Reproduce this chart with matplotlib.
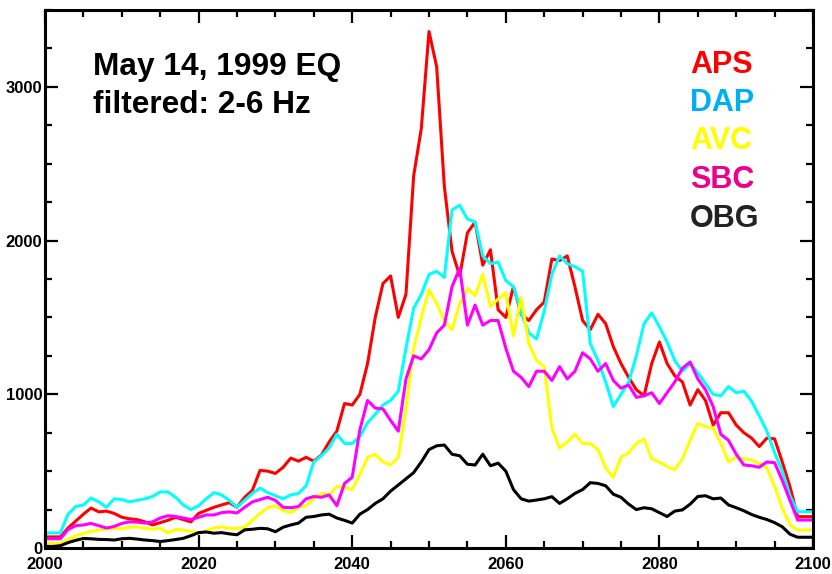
import matplotlib
matplotlib.use("Agg")
import matplotlib.pyplot as plt
from matplotlib import font_manager
from matplotlib.ticker import MultipleLocator
import numpy as np

t = list(range(2000, 2101))

aps = [72, 72, 72, 130, 175, 220, 260, 235, 240, 225,
       200, 190, 185, 170, 150, 165, 180, 200, 185, 170,
       225, 245, 265, 280, 295, 265, 330, 375, 505, 500,
       485, 525, 585, 565, 590, 565, 605, 690, 760, 940,
       930, 1000, 1200, 1500, 1720, 1770, 1500, 1650, 2420, 2730,
       3360, 3130, 2350, 1930, 1770, 2050, 2120, 1840, 1940, 1550,
       1500, 1700, 1520, 1480, 1550, 1600, 1880, 1870, 1900, 1700,
       1480, 1420, 1520, 1460, 1310, 1200, 1110, 1030, 990, 1200,
       1340, 1200, 1120, 1080, 930, 1030, 960, 800, 880, 880,
       800, 750, 715, 660, 715, 710, 560, 400, 204, 204, 204]

dap = [98, 98, 98, 220, 270, 280, 325, 300, 265, 320,
       315, 300, 310, 320, 335, 365, 365, 330, 280, 250,
       275, 320, 360, 345, 310, 265, 310, 355, 390, 360,
       340, 320, 345, 355, 405, 560, 600, 650, 740, 680,
       680, 725, 815, 870, 930, 960, 1020, 1300, 1560, 1650,
       1780, 1800, 1760, 2200, 2230, 2140, 2120, 1900, 1850, 1860,
       1740, 1700, 1530, 1400, 1360, 1540, 1780, 1900, 1850, 1830,
       1800, 1330, 1220, 1080, 920, 1000, 1080, 1250, 1460, 1530,
       1440, 1340, 1220, 1150, 1200, 1140, 1070, 1000, 990, 1050,
       1010, 1020, 955, 860, 760, 620, 500, 340, 236, 236, 236]

avc = [31, 31, 31, 55, 78, 95, 108, 115, 125, 128,
       126, 135, 138, 128, 122, 128, 98, 120, 117, 108,
       100, 112, 130, 138, 128, 128, 135, 180, 225, 262,
       275, 245, 230, 265, 275, 320, 355, 345, 400, 395,
       380, 480, 590, 610, 560, 540, 590, 900, 1300, 1500,
       1680, 1590, 1480, 1420, 1590, 1690, 1640, 1780, 1570, 1620,
       1660, 1380, 1630, 1330, 1220, 1180, 780, 650, 690, 740,
       680, 680, 640, 520, 460, 590, 620, 680, 710, 580,
       560, 530, 510, 580, 700, 810, 790, 780, 680, 560,
       590, 580, 573, 550, 520, 400, 260, 150, 117, 117, 117]

sbc = [60, 60, 60, 120, 145, 150, 160, 145, 130, 140,
       160, 170, 168, 162, 170, 195, 210, 205, 195, 185,
       200, 215, 215, 230, 235, 228, 265, 300, 315, 330,
       310, 265, 262, 270, 320, 335, 330, 345, 275, 420,
       460, 770, 960, 910, 905, 830, 760, 1100, 1250, 1230,
       1290, 1400, 1450, 1700, 1820, 1450, 1580, 1450, 1480, 1480,
       1300, 1150, 1110, 1050, 1150, 1150, 1090, 1180, 1100, 1150,
       1270, 1230, 1150, 1200, 1090, 1040, 1060, 980, 990, 1010,
       940, 1010, 1080, 1170, 1210, 1100, 1030, 920, 740, 700,
       610, 540, 535, 525, 560, 555, 440, 310, 182, 182, 182]

obg = [10, 10, 15, 35, 50, 62, 60, 56, 55, 52,
       60, 63, 58, 52, 48, 42, 48, 55, 63, 80,
       100, 104, 96, 100, 92, 86, 118, 122, 128, 125,
       106, 135, 150, 162, 200, 205, 215, 220, 195, 180,
       162, 220, 250, 290, 320, 370, 410, 450, 490, 560,
       640, 665, 670, 610, 600, 545, 540, 610, 535, 552,
       500, 380, 320, 305, 312, 320, 334, 290, 320, 355,
       380, 425, 420, 405, 350, 330, 285, 250, 262, 255,
       230, 205, 240, 248, 285, 335, 340, 320, 325, 280,
       262, 242, 218, 200, 185, 165, 138, 90, 70, 70, 70]

names = ["APS", "DAP", "AVC", "SBC", "OBG"]
series = [aps, dap, avc, sbc, obg]
line_colors = ["#ff0000", "#00ffff", "#ffff00", "#ff00ff", "#000000"]
label_colors = ["#ff0000", "#00b0f0", "#ffff00", "#ec008c", "#222222"]

title_lines = ["May 14, 1999 EQ", "filtered: 2-6 Hz"]

available = {f.name for f in font_manager.fontManager.ttflist}
tick_family = "Liberation Sans Narrow" if "Liberation Sans Narrow" in available else "Liberation Sans"
text_family = "Liberation Sans" if "Liberation Sans" in available else "DejaVu Sans"

fig = plt.figure(figsize=(8.32, 5.74), dpi=100)
ax = fig.add_axes([45 / 832, 26 / 574, 768 / 832, 538 / 574])

for vals, c in zip(series, line_colors):
    ax.plot(t, vals, color=c, lw=2.2, solid_joinstyle="round")

ax.set_xlim(2000, 2100)
ax.set_ylim(0, 3500)
ax.xaxis.set_major_locator(MultipleLocator(20))
ax.xaxis.set_minor_locator(MultipleLocator(5))
ax.yaxis.set_major_locator(MultipleLocator(1000))
ax.yaxis.set_minor_locator(MultipleLocator(250))
ax.tick_params(which="both", direction="in", top=True, right=True, width=1.6, color="black")
ax.tick_params(which="major", length=9.5)
ax.tick_params(which="minor", length=5)
ax.tick_params(axis="x", which="major", pad=6.5)
ax.tick_params(axis="y", which="major", pad=2)
for lab in ax.get_xticklabels() + ax.get_yticklabels():
    lab.set_fontfamily(tick_family)
    lab.set_fontweight("bold")
    lab.set_fontsize(12)
for s in ax.spines.values():
    s.set_linewidth(2.2)

ax.text((93 - 45) / 768, (548 - 75) / 538, title_lines[0],
        transform=ax.transAxes, family=text_family, weight="bold", fontsize=22.8,
        color="black", ha="left", va="baseline")
ax.text((93 - 45) / 768, (548 - 113) / 538, title_lines[1],
        transform=ax.transAxes, family=text_family, weight="bold", fontsize=22.8,
        color="black", ha="left", va="baseline")

baselines = [73, 111, 149, 188, 227]
for name, c, yb in zip(names, label_colors, baselines):
    ax.text((690 - 45) / 768, (548 - yb) / 538, name, transform=ax.transAxes,
            family=text_family, weight="bold", fontsize=22, color=c,
            ha="left", va="baseline")

fig.savefig("out.png", dpi=100)
